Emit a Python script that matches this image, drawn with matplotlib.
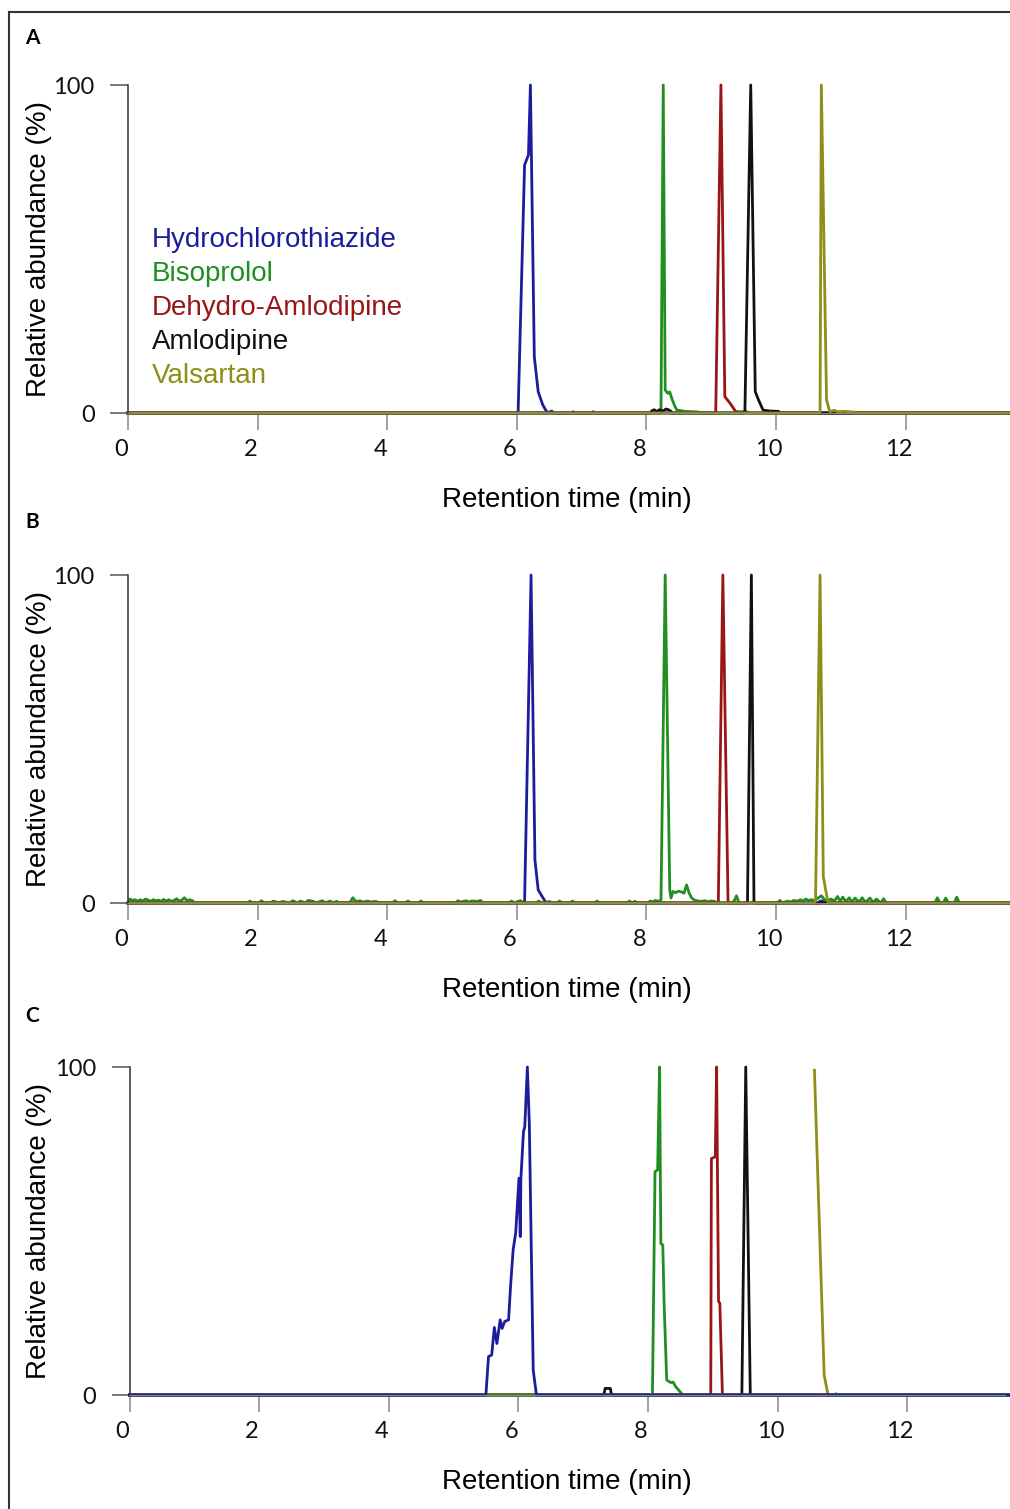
import numpy as np
import matplotlib
matplotlib.use("Agg")
import matplotlib.pyplot as plt
from matplotlib.transforms import ScaledTranslation
from matplotlib.lines import Line2D

nan = np.nan

names = ["Hydrochlorothiazide", "Bisoprolol", "Dehydro-Amlodipine", "Amlodipine", "Valsartan"]
colors = ["#1c1c9c", "#1f8f1f", "#9a1515", "#111111", "#8e8e18"]

# ---- panel A (retention time in min, relative abundance in %) ----
A_hct_t = [0, 6.02, 6.12, 6.18, 6.21, 6.27, 6.33, 6.40, 6.46, 6.50, 6.54, 6.56, 6.60, 6.85, 6.87, 6.89, 7.16, 7.18, 7.20, 13.6]
A_hct_v = [0, 0, 75.6, 78.7, 100, 17.2, 6.5, 2.5, 0.4, 0.2, 0.6, 0.2, 0, 0, 0.4, 0, 0, 0.4, 0, 0]
A_bis_t = [0, 8.20, 8.225, 8.26, 8.29, 8.33, 8.36, 8.40, 8.44, 8.47, 8.60, 8.80, 8.85, 9.35, 9.40, 9.55, 9.60, 13.6]
A_bis_v = [0, 0, 0.5, 100, 7.0, 6.0, 6.4, 4.0, 2.0, 0.9, 0.5, 0.3, 0, 0, 0.4, 0.4, 0, 0]
A_dhm_t = [0, 9.05, 9.07, 9.15, 9.21, 9.29, 9.38, 9.45, 13.6]
A_dhm_v = [0, 0, 0.3, 100, 5.0, 3.0, 0.4, 0, 0]
A_aml_t = [0, 8.06, 8.08, 8.12, 8.16, 8.20, 8.26, 8.30, 8.34, 8.38, 8.40, 9.50, 9.52, 9.61, 9.68, 9.73, 9.80, 9.90, 10.04, 10.06, 13.6]
A_aml_v = [0, 0, 0.6, 1.0, 0.4, 1.0, 0.6, 1.2, 1.0, 0.5, 0, 0, 0.3, 100, 6.5, 4.0, 0.9, 0.6, 0.5, 0, 0]
A_val_t = [0, 10.66, 10.68, 10.70, 10.78, 10.83, 10.90, 10.95, 11.05, 11.19, 11.22, 13.6]
A_val_v = [0, 0, 0.3, 100, 4.0, 0.4, 0.8, 0.4, 0.5, 0.3, 0, 0]

# ---- panel B ----
B_hct_t = [0, 6.10, 6.12, 6.22, 6.28, 6.33, 6.44, 6.50, 10.66, 10.68, 10.78, 10.80, 13.6]
B_hct_v = [0, 0, 0.3, 100, 13.1, 4.0, 0.4, 0, 0, 0.6, 0.6, 0, 0]
B_bis_t = [0.00, 0.03, 0.07, 0.11, 0.15, 0.19, 0.23, 0.27, 0.31, 0.35, 0.39, 0.43, 0.47, 0.51, 0.55,
           0.59, 0.63, 0.67, 0.71, 0.75, 0.79, 0.83, 0.87, 0.91, 0.95, 0.99, 1.03,
           1.85, 1.88, 1.92, 2.02, 2.06, 2.10, 2.20, 2.24, 2.34, 2.38, 2.50, 2.54, 2.62, 2.66, 2.74, 2.78,
           2.86, 2.90, 3.00, 3.04, 3.12, 3.16, 3.22, 3.26, 3.42, 3.47, 3.52, 3.58, 3.62, 3.70, 3.74, 3.82, 3.86, 3.92,
           4.08, 4.12, 4.16, 4.28, 4.32, 4.36, 4.48, 4.52, 4.56, 5.05, 5.09, 5.13, 5.22, 5.26, 5.30, 5.40, 5.44, 5.48,
           5.88, 5.92, 5.96, 6.02, 6.06, 6.10, 6.30, 6.34, 6.38, 6.46, 6.50, 6.54, 6.62, 6.66, 6.70, 6.82, 6.86, 6.90,
           7.20, 7.24, 7.28, 7.70, 7.74, 7.78, 7.82, 7.86, 8.02, 8.06, 8.10, 8.14, 8.18, 8.20, 8.225, 8.29, 8.36, 8.38,
           8.41, 8.45, 8.50, 8.55, 8.58, 8.62, 8.66, 8.70, 8.75, 8.80, 8.85, 8.90, 8.95, 9.00, 9.05, 9.10, 9.30, 9.35,
           9.39, 9.43, 10.02, 10.06, 10.10, 10.18, 10.22, 10.28, 10.32, 10.38, 10.42, 10.46, 10.50, 10.55, 10.60, 10.64,
           10.70, 10.75, 10.80, 10.85, 10.90, 10.95, 10.99, 11.03, 11.08, 11.13, 11.17, 11.22, 11.28, 11.33, 11.38,
           11.45, 11.50, 11.55, 11.62, 11.66, 11.70, 12.45, 12.49, 12.53, 12.58, 12.62, 12.66, 12.75, 12.79, 12.83, 13.6]
B_bis_v = [0.0, 1.2, 0.8, 1.0, 0.5, 1.0, 0.6, 1.2, 0.9, 0.5, 1.0, 0.7, 0.9, 0.5, 1.1,
           0.6, 1.0, 0.5, 0.8, 1.3, 0.6, 0.9, 1.6, 0.7, 1.0, 0.8, 0.0,
           0.0, 0.6, 0.0, 0.0, 0.7, 0.0, 0.0, 0.6, 0.0, 0.5, 0.0, 0.7, 0.0, 0.6, 0.0, 0.8,
           0.5, 0.0, 0.7, 0.0, 0.6, 0.0, 0.5, 0.0, 0.0, 1.6, 0.4, 0.7, 0.3, 0.6, 0.3, 0.5, 0.2, 0.0,
           0.0, 0.7, 0.0, 0.0, 0.6, 0.0, 0.0, 0.6, 0.0, 0.0, 0.7, 0.3, 0.7, 0.3, 0.6, 0.5, 0.8, 0.0,
           0.0, 0.6, 0.0, 0.5, 0.7, 0.0, 0.0, 0.6, 0.0, 0.0, 0.5, 0.0, 0.0, 0.6, 0.0, 0.0, 0.6, 0.0,
           0.0, 0.6, 0.0, 0.0, 0.6, 0.0, 0.5, 0.0, 0.0, 0.6, 0.3, 0.8, 0.5, 0.6, 1.0, 100, 4.0, 1.5,
           3.5, 3.2, 3.6, 3.3, 3.0, 5.5, 3.0, 1.5, 0.8, 0.6, 0.5, 0.7, 0.4, 0.6, 0.5, 0.0, 0.0, 0.5,
           2.2, 0.0, 0.0, 0.8, 0.0, 0.6, 0.3, 0.8, 0.5, 1.0, 0.6, 1.2, 0.8, 1.0, 0.7, 1.4,
           2.2, 1.0, 0.8, 1.2, 0.6, 2.0, 0.5, 1.8, 0.4, 1.6, 0.3, 1.5, 0.3, 1.6, 0.2,
           1.5, 0.2, 1.2, 0.0, 1.3, 0.0, 0.0, 1.6, 0.0, 0.0, 1.5, 0.0, 0.0, 1.8, 0.0, 0.0]
B_dhm_t = [0, 9.09, 9.11, 9.18, 9.26, 9.28, 13.6]
B_dhm_v = [0, 0, 0.3, 100, 0.3, 0, 0]
B_aml_t = [0, 9.54, 9.56, 9.62, 9.66, 9.68, 13.6]
B_aml_v = [0, 0, 0.3, 100, 0.3, 0, 0]
B_val_t = [0, 10.59, 10.61, 10.68, 10.73, 10.80, 10.82, 13.6]
B_val_v = [0, 0, 0.5, 100, 8.0, 0.4, 0, 0]

# ---- panel C ----
C_hct_t = [0, 5.50, 5.54, 5.59, 5.63, 5.67, 5.72, 5.75, 5.79, 5.85, 5.88, 5.92, 5.96, 6.01, 6.03, 6.04,
           6.08, 6.10, 6.14, 6.17, 6.23, 6.28, 13.6]
C_hct_v = [0, 0, 11.7, 12.2, 20.6, 15.7, 22.9, 20.3, 22.4, 22.9, 33.0, 44.2, 49.4, 66.1, 48.3, 66.1,
           80.3, 81.8, 100, 82.8, 7.6, 0, 0]
C_bis_t = [0, 8.07, 8.11, 8.15, 8.18, 8.20, 8.23, 8.25, 8.29, 8.35, 8.39, 8.43, 8.47, 8.54, 10.88, 10.90, 10.93, 13.6]
C_bis_v = [0, 0, 68.1, 68.6, 100, 46.2, 45.7, 28.0, 4.6, 3.8, 3.9, 2.5, 1.6, 0, 0, 0.4, 0, 0]
C_dhm_t = [0, 8.97, 8.98, 9.04, 9.06, 9.09, 9.11, 9.15, 13.6]
C_dhm_v = [0, 0, 72.1, 72.6, 100, 28.5, 28.0, 0, 0]
C_aml_t = [0, 7.32, 7.34, 7.42, 7.44, 9.45, 9.51, 9.58, 13.6]
C_aml_v = [0, 0, 2.0, 2.0, 0, 0, 100, 0, 0]
C_val_t = [0, 10.56, nan, 10.57, 10.72, 10.78, 13.6]
C_val_v = [0, 0, nan, 99, 6.1, 0, 0]

panels = [
    ("A", [(A_hct_t, A_hct_v, 0), (A_bis_t, A_bis_v, 1), (A_dhm_t, A_dhm_v, 2), (A_aml_t, A_aml_v, 3), (A_val_t, A_val_v, 4)]),
    ("B", [(B_hct_t, B_hct_v, 0), (B_bis_t, B_bis_v, 1), (B_dhm_t, B_dhm_v, 2), (B_aml_t, B_aml_v, 3), (B_val_t, B_val_v, 4)]),
    ("C", [(C_val_t, C_val_v, 4), (C_aml_t, C_aml_v, 3), (C_dhm_t, C_dhm_v, 2), (C_bis_t, C_bis_v, 1), (C_hct_t, C_hct_v, 0)]),
]

W, H = 1010, 1509
fig = plt.figure(figsize=(W / 100, H / 100), dpi=100)

# pixel layout of each panel: left, right, y of 0 %, y of 100 %, letter y
boxes = [(128, 1005, 413, 85, 38), (128, 1005, 903, 575, 522), (129.5, 1005, 1395, 1067, 1016)]
px_per_min = 64.8

for (letter, series), (x0, x1, yb, yt, ly) in zip(panels, boxes):
    ax = fig.add_axes([x0 / W, 1 - yb / H, (x1 - x0) / W, (yb - yt) / H])
    for t, v, ci in series:
        ax.plot(t, v, color=colors[ci], lw=2.0, clip_on=False)
    ax.set_xlim(0, (x1 - x0) / px_per_min)
    ax.set_ylim(0, 100)
    for s in ["top", "right"]:
        ax.spines[s].set_visible(False)
    ax.spines["left"].set_color("#333333")
    ax.spines["left"].set_linewidth(1.1)
    ax.spines["bottom"].set_color("#888888")
    ax.set_xticks([0, 2, 4, 6, 8, 10, 12])
    ax.set_yticks([0, 100])
    ax.tick_params(axis="x", length=12, width=1.1, color="#888888", pad=7,
                   labelsize=17, labelcolor="#111111")
    ax.tick_params(axis="y", length=13, width=1.1, color="#555555", pad=11,
                   labelsize=17, labelcolor="#111111")
    for lab in ax.get_xticklabels() + ax.get_yticklabels():
        lab.set_fontfamily("Lato")
    shift = ScaledTranslation(-7 / 100, 0, fig.dpi_scale_trans)
    for lab in ax.get_xticklabels():
        lab.set_transform(lab.get_transform() + shift)
    ax.set_xlabel("Retention time (min)", fontsize=20, family="Liberation Sans", va="center")
    ax.xaxis.set_label_coords(0.5, -87 / (yb - yt))
    ax.set_ylabel("Relative abundance (%)", fontsize=20, family="Liberation Sans", va="center")
    ax.yaxis.set_label_coords(-(x0 - 39) / (x1 - x0), 0.5)
    fig.text(32 / W, 1 - ly / H, letter, fontsize=15, fontweight="bold", family="Lato",
             ha="center", va="center")

# compound names in panel A
for i, (nm, c) in enumerate(zip(names, colors)):
    fig.text(152 / W, 1 - (240 + 34 * i) / H, nm, color=c, fontsize=20,
             family="Liberation Sans", ha="left", va="center")

# frame around the figure (only left and top edges are inside the image)
fig.add_artist(Line2D([9 / W, 9 / W], [0, 1 - 12 / H], color="#333333", lw=1.5))
fig.add_artist(Line2D([9 / W, 1], [1 - 12 / H, 1 - 12 / H], color="#333333", lw=1.5))

fig.savefig("out.png", dpi=100)
